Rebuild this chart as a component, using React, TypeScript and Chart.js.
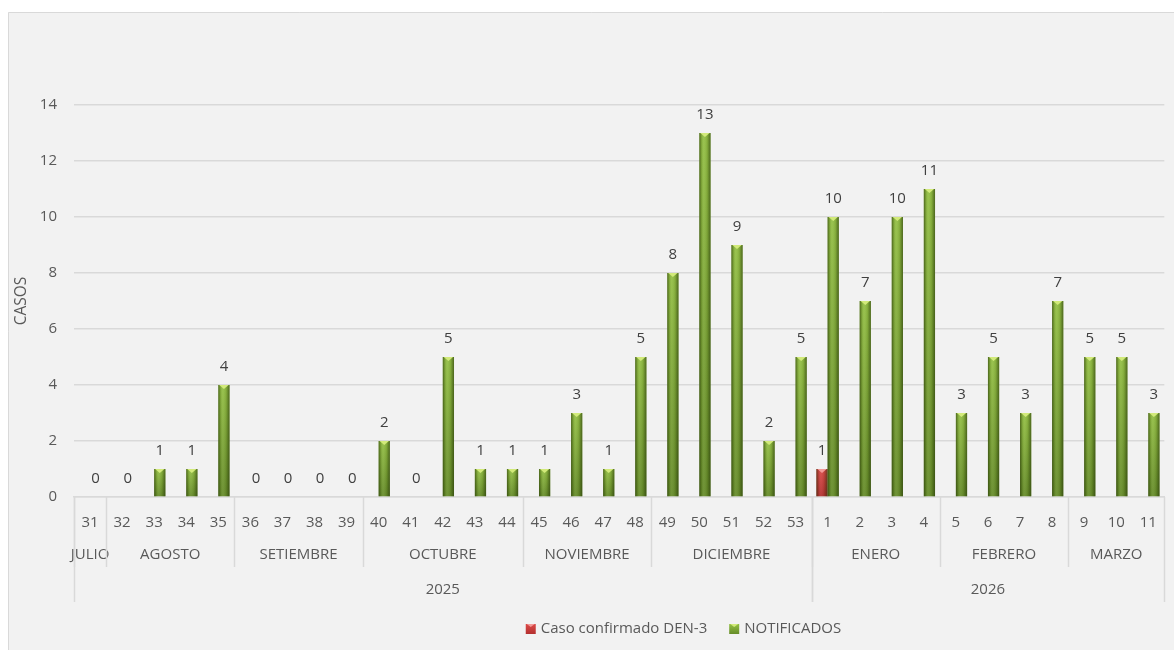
import { useEffect, useRef } from "react";
import { Chart, registerables } from "chart.js";

Chart.register(...registerables);

// Epidemiological weeks shown on the x axis
const weeks = [
  "31", "32", "33", "34", "35", "36", "37", "38", "39", "40", "41", "42",
  "43", "44", "45", "46", "47", "48", "49", "50", "51", "52", "53",
  "1", "2", "3", "4", "5", "6", "7", "8", "9", "10", "11",
];

// Confirmed DEN-3 cases per week (only weeks with a case carry a value)
const confirmedDen3: (number | null)[] = [
  null, null, null, null, null, null, null, null, null, null, null, null,
  null, null, null, null, null, null, null, null, null, null, null,
  1, null, null, null, null, null, null, null, null, null, null,
];

// Notified cases per week
const notified = [
  0, 0, 1, 1, 4, 0, 0, 0, 0, 2, 0, 5,
  1, 1, 1, 3, 1, 5, 8, 13, 9, 2, 5,
  10, 7, 10, 11, 3, 5, 3, 7, 5, 5, 3,
];

// Month groups (name, number of weeks)
const monthLabels = ["JULIO", "AGOSTO", "SETIEMBRE", "OCTUBRE", "NOVIEMBRE", "DICIEMBRE", "ENERO", "FEBRERO", "MARZO"];
const monthWeekCounts = [1, 4, 4, 5, 4, 5, 4, 4, 3];

// Year groups (name, number of weeks)
const yearLabels = ["2025", "2026"];
const yearWeekCounts = [23, 11];

const yTicks = [0, 2, 4, 6, 8, 10, 12, 14];

const seriesNames = ["Caso confirmado DEN-3", "NOTIFICADOS"];

const FONT = "'Open Sans', 'Noto Sans', sans-serif";
const TEXT = "#595959";
const LINE = "#d9d9d9";

const palettes = [
  { top: "#dc4a48", bottom: "#b3302f", cap: "#f29a98" },
  { top: "#94c044", bottom: "#668c29", cap: "#d2ea7a" },
];

function paintBar(ctx: CanvasRenderingContext2D, x: number, top: number, base: number, w: number, p: { top: string; bottom: string; cap: string }) {
  const left = x - w / 2;
  const h = base - top;
  if (h <= 0) return;
  const vg = ctx.createLinearGradient(0, top, 0, base);
  vg.addColorStop(0, p.top);
  vg.addColorStop(1, p.bottom);
  ctx.fillStyle = vg;
  ctx.fillRect(left, top, w, h);
  const hg = ctx.createLinearGradient(left, 0, left + w, 0);
  hg.addColorStop(0, "rgba(30,45,5,0.6)");
  hg.addColorStop(0.2, "rgba(30,45,5,0.15)");
  hg.addColorStop(0.4, "rgba(255,255,255,0.06)");
  hg.addColorStop(0.7, "rgba(30,45,5,0.12)");
  hg.addColorStop(1, "rgba(30,45,5,0.6)");
  ctx.fillStyle = hg;
  ctx.fillRect(left, top, w, h);
  // bevelled top cap
  ctx.fillStyle = p.cap;
  ctx.beginPath();
  ctx.moveTo(left + 1, top);
  ctx.lineTo(left + w - 1, top);
  ctx.lineTo(x, top + Math.min(4, h));
  ctx.closePath();
  ctx.fill();
}

const decorPlugin = {
  id: "decor",
  beforeDraw(chart: Chart) {
    const { ctx, width, height } = chart;
    ctx.save();
    ctx.fillStyle = "#ffffff";
    ctx.fillRect(0, 0, width, height);
    ctx.fillStyle = "#f2f2f2";
    ctx.fillRect(8, 12, width - 8, height - 12);
    ctx.strokeStyle = LINE;
    ctx.lineWidth = 1;
    ctx.beginPath();
    ctx.moveTo(8.5, height);
    ctx.lineTo(8.5, 12.5);
    ctx.lineTo(width, 12.5);
    ctx.stroke();
    ctx.restore();
  },
  afterDatasetsDraw(chart: Chart) {
    const { ctx } = chart;
    ctx.save();
    chart.data.datasets.forEach((ds, di) => {
      const meta = chart.getDatasetMeta(di);
      meta.data.forEach((el: any, i: number) => {
        const v = ds.data[i] as number | null;
        if (v === null || v === undefined) return;
        const { x, y, base, width } = el.getProps(["x", "y", "base", "width"], true);
        paintBar(ctx, x, y, base, width, palettes[di]);
        ctx.fillStyle = "#404040";
        ctx.font = `15px ${FONT}`;
        ctx.textAlign = "center";
        ctx.textBaseline = "middle";
        ctx.fillText(String(v), x, y - 18);
      });
    });
    ctx.restore();
  },
  afterDraw(chart: Chart) {
    const { ctx, chartArea } = chart;
    const xs = chart.scales.x;
    const bottom = chartArea.bottom;
    const step = xs.getPixelForValue(1) - xs.getPixelForValue(0);
    const edge = (i: number) => xs.getPixelForValue(0) - step / 2 + i * step;
    ctx.save();
    ctx.strokeStyle = LINE;
    ctx.lineWidth = 1.5;
    ctx.fillStyle = TEXT;
    ctx.font = `15px ${FONT}`;
    ctx.textAlign = "center";
    ctx.textBaseline = "middle";

    // month boundaries and labels
    let start = 0;
    monthLabels.forEach((m, k) => {
      const end = start + monthWeekCounts[k];
      const x0 = edge(start);
      const x1 = edge(end);
      ctx.beginPath();
      ctx.moveTo(Math.round(x0) + 0.5, bottom);
      ctx.lineTo(Math.round(x0) + 0.5, bottom + 70);
      ctx.stroke();
      ctx.fillText(m, (x0 + x1) / 2, bottom + 58);
      start = end;
    });

    // year boundaries and labels
    start = 0;
    yearLabels.forEach((yl, k) => {
      const end = start + yearWeekCounts[k];
      const x0 = edge(start);
      const x1 = edge(end);
      ctx.beginPath();
      ctx.moveTo(Math.round(x0) + 0.5, bottom);
      ctx.lineTo(Math.round(x0) + 0.5, bottom + 105);
      ctx.moveTo(Math.round(x1) + 0.5, bottom);
      ctx.lineTo(Math.round(x1) + 0.5, bottom + 105);
      ctx.stroke();
      ctx.fillText(yl, (x0 + x1) / 2, bottom + 93);
      start = end;
    });

    // legend
    const ly = 629;
    const w0 = ctx.measureText(seriesNames[0]).width;
    const w1 = ctx.measureText(seriesNames[1]).width;
    const total = 10 + 5 + w0 + 22 + 10 + 5 + w1;
    let lx = 683.5 - total / 2;
    ctx.textAlign = "left";
    seriesNames.forEach((name, i) => {
      const p = palettes[i];
      const g = ctx.createLinearGradient(0, ly - 5, 0, ly + 5);
      g.addColorStop(0, p.top);
      g.addColorStop(1, p.bottom);
      ctx.fillStyle = g;
      ctx.fillRect(lx, ly - 5, 10, 10);
      ctx.fillStyle = p.cap;
      ctx.beginPath();
      ctx.moveTo(lx + 1, ly - 5);
      ctx.lineTo(lx + 9, ly - 5);
      ctx.lineTo(lx + 5, ly - 2);
      ctx.closePath();
      ctx.fill();
      ctx.fillStyle = TEXT;
      ctx.fillText(name, lx + 15, ly);
      lx += 15 + (i === 0 ? w0 : w1) + 22;
    });
    ctx.restore();
  },
};

export default function App() {
  const ref = useRef<HTMLCanvasElement | null>(null);

  useEffect(() => {
    if (!ref.current) return;
    const chart = new Chart(ref.current, {
      type: "bar",
      data: {
        labels: weeks,
        datasets: [
          {
            label: seriesNames[0],
            data: confirmedDen3,
            backgroundColor: "rgba(0,0,0,0)",
            categoryPercentage: 0.7,
            barPercentage: 1,
          },
          {
            label: seriesNames[1],
            data: notified,
            backgroundColor: "rgba(0,0,0,0)",
            categoryPercentage: 0.7,
            barPercentage: 1,
          },
        ],
      },
      options: {
        animation: false,
        responsive: true,
        maintainAspectRatio: false,
        layout: { padding: { left: 0, right: 9, top: 105, bottom: 0 } },
        plugins: {
          legend: { display: false },
          tooltip: { enabled: false },
        },
        scales: {
          x: {
            grid: { display: false, drawTicks: false },
            border: { display: true, color: LINE, width: 1.5 },
            ticks: {
              autoSkip: false,
              maxRotation: 0,
              color: TEXT,
              font: { family: FONT, size: 15 },
              padding: 17,
            },
            afterFit(scale: any) {
              scale.height = 153;
            },
          },
          y: {
            min: 0,
            max: 14,
            afterBuildTicks(scale: any) {
              scale.ticks = yTicks.map((v) => ({ value: v }));
            },
            grid: { color: LINE, lineWidth: 1.5, drawTicks: false },
            border: { display: false },
            ticks: {
              color: TEXT,
              font: { family: FONT, size: 15 },
              padding: 17,
            },
            title: {
              display: true,
              text: "CASOS",
              color: TEXT,
              font: { family: FONT, size: 15.5 },
              padding: { top: 12 },
            },
            afterFit(scale: any) {
              scale.width = 74;
            },
          },
        },
      },
      plugins: [decorPlugin],
    });
    return () => chart.destroy();
  }, []);

  return (
    <div style={{ position: "fixed", left: 0, top: 0, width: 1174, height: 650 }}>
      <canvas ref={ref} />
    </div>
  );
}
